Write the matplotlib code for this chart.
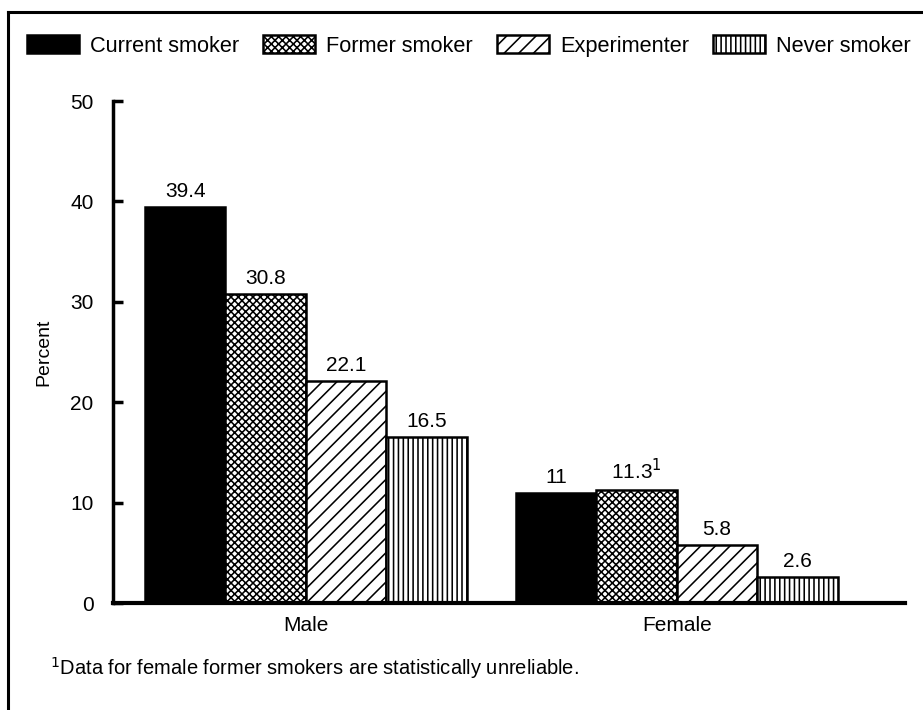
import matplotlib
matplotlib.use('Agg')
import matplotlib.pyplot as plt
import numpy as np
from matplotlib.lines import Line2D

DPI = 88
S = 100.0 / DPI  # keep sizes equivalent to a 100-dpi layout

plt.rcParams['font.family'] = ['Liberation Sans', 'DejaVu Sans']
plt.rcParams['hatch.linewidth'] = 1.3
plt.rcParams['hatch.color'] = 'black'

groups = ['Male', 'Female']
series_names = ['Current smoker', 'Former smoker', 'Experimenter', 'Never smoker']
current = [39.4, 11.0]
former = [30.8, 11.3]
experimenter = [22.1, 5.8]
never = [16.5, 2.6]
current_labels = ['39.4', '11']
former_labels = ['30.8', '11.3$^{1}$']
experimenter_labels = ['22.1', '5.8']
never_labels = ['16.5', '2.6']
yticks = [0, 10, 20, 30, 40, 50]
footnote = '$^{1}$Data for female former smokers are statistically unreliable.'

series = [current, former, experimenter, never]
labels = [current_labels, former_labels, experimenter_labels, never_labels]
faces = ['black', 'white', 'white', 'white']
hatches = [None, 'xxxx', '//', '|||']

fig = plt.figure(figsize=(923 / DPI, 710 / DPI), dpi=DPI)
ax = fig.add_axes([0.1224, 0.1507, 0.8581, 0.707])

x = np.arange(len(groups))
w = 0.217
handles = []
for i, (vals, labs) in enumerate(zip(series, labels)):
    pos = x + (i - 1.5) * w
    bars = ax.bar(pos, vals, width=w, color=faces[i], edgecolor='black',
                  linewidth=1.8 * S, hatch=hatches[i], label=series_names[i])
    handles.append(bars)
    for p, v, l in zip(pos, vals, labs):
        ax.text(p, v + 0.6, l, ha='center', va='bottom', fontsize=15 * S)

ax.set_xlim(-0.52, 1.615)
ax.set_ylim(0, 50)
ax.set_yticks(yticks)
ax.set_yticklabels([str(t) for t in yticks], fontsize=15 * S)
ax.set_xticks(x)
ax.set_xticklabels(groups, fontsize=15 * S)
ax.tick_params(axis='x', length=0, pad=9 * S)
ax.tick_params(axis='y', direction='in', length=7 * S, width=2.5 * S, pad=14 * S)
for s in ['top', 'right']:
    ax.spines[s].set_visible(False)
ax.spines['left'].set_linewidth(2.5 * S)
ax.spines['bottom'].set_linewidth(3 * S)
ax.set_ylabel('Percent', fontsize=14 * S, labelpad=13 * S)

fig.legend(handles=handles, loc='center', bbox_to_anchor=(0.508, 0.935), ncol=4,
           frameon=False, fontsize=15.7 * S, handlelength=2.4, handleheight=0.9,
           columnspacing=1.1, handletextpad=0.5)

fig.text(0.054, 0.059, footnote, fontsize=14.5 * S, ha='left', va='center')

fig.add_artist(Line2D([0.009, 0.009], [0.0, 0.983], color='black', lw=2.2 * S,
                      transform=fig.transFigure))
fig.add_artist(Line2D([0.009, 1.0], [0.983, 0.983], color='black', lw=2.2 * S,
                      transform=fig.transFigure))

fig.savefig('out.png', dpi=DPI)
